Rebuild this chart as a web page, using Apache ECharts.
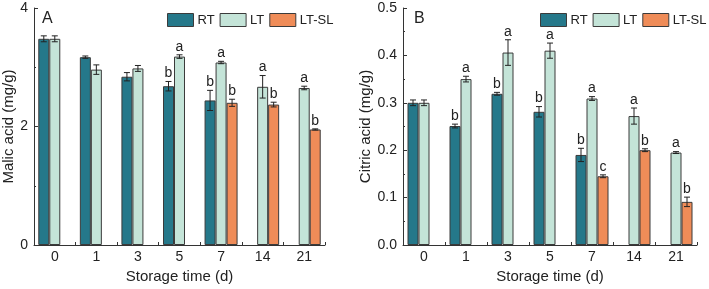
<!DOCTYPE html>
<html>
<head>
<meta charset="utf-8">
<script src="https://cdn.jsdelivr.net/npm/echarts@6/dist/echarts.min.js"></script>
<style>
  html, body { margin: 0; padding: 0; background: #fff; }
  #main { width: 709px; height: 289px; }
</style>
</head>
<body>
<div id="main"></div>
<script>
var categories = ['0', '1', '3', '5', '7', '14', '21'];
var seriesNames = ['RT', 'LT', 'LT-SL'];

// malic acid (mg/g)
var malicRT = [3.48, 3.17, 2.84, 2.68, 2.44, null, null];
var malicRTErr = [0.05, 0.02, 0.07, 0.08, 0.17, null, null];
var malicRTLetters = ['', '', '', 'b', 'b', '', ''];
var malicLT = [3.48, 2.96, 2.98, 3.18, 3.08, 2.67, 2.65];
var malicLTErr = [0.05, 0.08, 0.05, 0.03, 0.02, 0.19, 0.03];
var malicLTLetters = ['', '', '', 'a', 'a', 'a', 'a'];
var malicSL = [null, null, null, null, 2.40, 2.37, 1.95];
var malicSLErr = [null, null, null, null, 0.06, 0.04, 0.01];
var malicSLLetters = ['', '', '', '', 'b', 'b', 'b'];

// citric acid (mg/g)
var citricRT = [0.300, 0.251, 0.319, 0.281, 0.190, null, null];
var citricRTErr = [0.006, 0.004, 0.003, 0.011, 0.014, null, null];
var citricRTLetters = ['', 'b', 'b', 'b', 'b', '', ''];
var citricLT = [0.300, 0.350, 0.406, 0.410, 0.309, 0.272, 0.195];
var citricLTErr = [0.006, 0.006, 0.027, 0.016, 0.004, 0.017, 0.002];
var citricLTLetters = ['', 'a', 'a', 'a', 'a', 'a', 'a'];
var citricSL = [null, null, null, null, 0.145, 0.200, 0.091];
var citricSLErr = [null, null, null, null, 0.003, 0.003, 0.010];
var citricSLLetters = ['', '', '', '', 'c', 'b', 'b'];

var colors = ['#25788a', '#c4e4d8', '#ef8c58'];
var BAR_W = 11;
var FONT = 'Arial, "Liberation Sans", sans-serif';

function barSeries(name, values, k, gi) {
  return {
    name: name, type: 'bar', xAxisIndex: gi, yAxisIndex: gi,
    data: values, barWidth: BAR_W, barGap: '0%',
    itemStyle: { color: colors[k], borderColor: '#3b3b3b', borderWidth: 1 }
  };
}

function errSeries(values, errs, letters, k, gi) {
  var data = [];
  values.forEach(function (v, i) {
    if (v != null) data.push([i, v, errs[i]]);
  });
  return {
    type: 'custom', xAxisIndex: gi, yAxisIndex: gi, z: 5, silent: true,
    data: data,
    renderItem: function (params, api) {
      var i = api.value(0), v = api.value(1), e = api.value(2);
      var top = api.coord([i, v + e]);
      var bot = api.coord([i, v - e]);
      var x = top[0] + (k - 1) * BAR_W;
      var st = { stroke: '#222', lineWidth: 1 };
      var kids = [
        { type: 'line', shape: { x1: x, y1: top[1], x2: x, y2: bot[1] }, style: st },
        { type: 'line', shape: { x1: x - 3, y1: top[1], x2: x + 3, y2: top[1] }, style: st },
        { type: 'line', shape: { x1: x - 3, y1: bot[1], x2: x + 3, y2: bot[1] }, style: st }
      ];
      if (letters[i]) {
        kids.push({
          type: 'text',
          style: { x: x, y: top[1] - 1, text: letters[i], fill: '#222',
            font: '14px ' + FONT, align: 'center', verticalAlign: 'bottom' }
        });
      }
      return { type: 'group', children: kids };
    }
  };
}

function xAxis(gi) {
  return {
    type: 'category', gridIndex: gi, data: categories,
    name: 'Storage time (d)', nameLocation: 'middle', nameGap: 21,
    nameTextStyle: { fontSize: 15, color: '#222', fontFamily: FONT },
    axisLine: { lineStyle: { color: '#333' } },
    axisTick: { show: true, inside: true, length: 3, alignWithLabel: false, lineStyle: { color: '#333' } },
    axisLabel: { fontSize: 14, color: '#222', fontFamily: FONT, margin: 5 }
  };
}

function yAxis(gi, name, max, interval, decimals, gap) {
  return {
    type: 'value', gridIndex: gi, min: 0, max: max, interval: interval,
    name: name, nameLocation: 'middle', nameGap: gap,
    nameTextStyle: { fontSize: 15, color: '#222', fontFamily: FONT },
    axisLine: { show: true, lineStyle: { color: '#333' } },
    axisTick: { show: true, inside: true, length: 4, lineStyle: { color: '#333' } },
    minorTick: { show: true, splitNumber: 2, length: 2, lineStyle: { color: '#333' } },
    splitLine: { show: false },
    axisLabel: { fontSize: 14, color: '#222', fontFamily: FONT, margin: 6,
      formatter: function (v) { return v.toFixed(decimals); } }
  };
}

function legend(left) {
  return {
    data: seriesNames, left: left, top: 13, width: 220, itemWidth: 26, itemHeight: 13, itemGap: 5,
    icon: 'rect', selectedMode: false, orient: 'horizontal', padding: 0,
    textStyle: { fontSize: 13, color: '#222', fontFamily: FONT, padding: [0, 0, 0, -1] },
    itemStyle: { borderColor: '#3b3b3b', borderWidth: 1 }
  };
}

var chart = echarts.init(document.getElementById('main'));
chart.setOption({
  animation: false,
  color: colors,
  title: [
    { text: 'A', left: 37, top: 6, textStyle: { fontSize: 16, fontWeight: 'normal', color: '#222', fontFamily: FONT } },
    { text: 'B', left: 409, top: 6, textStyle: { fontSize: 16, fontWeight: 'normal', color: '#222', fontFamily: FONT } }
  ],
  legend: [legend(167), legend(540)],
  grid: [
    { left: 33, top: 8, width: 292, height: 237 },
    { left: 403, top: 8, width: 294, height: 237 }
  ],
  xAxis: [xAxis(0), xAxis(1)],
  yAxis: [
    yAxis(0, 'Malic acid (mg/g)', 4, 2, 0, 18),
    yAxis(1, 'Citric acid (mg/g)', 0.5, 0.1, 1, 28)
  ],
  series: [
    barSeries('RT', malicRT, 0, 0),
    barSeries('LT', malicLT, 1, 0),
    barSeries('LT-SL', malicSL, 2, 0),
    barSeries('RT', citricRT, 0, 1),
    barSeries('LT', citricLT, 1, 1),
    barSeries('LT-SL', citricSL, 2, 1),
    errSeries(malicRT, malicRTErr, malicRTLetters, 0, 0),
    errSeries(malicLT, malicLTErr, malicLTLetters, 1, 0),
    errSeries(malicSL, malicSLErr, malicSLLetters, 2, 0),
    errSeries(citricRT, citricRTErr, citricRTLetters, 0, 1),
    errSeries(citricLT, citricLTErr, citricLTLetters, 1, 1),
    errSeries(citricSL, citricSLErr, citricSLLetters, 2, 1)
  ]
});
</script>
</body>
</html>
